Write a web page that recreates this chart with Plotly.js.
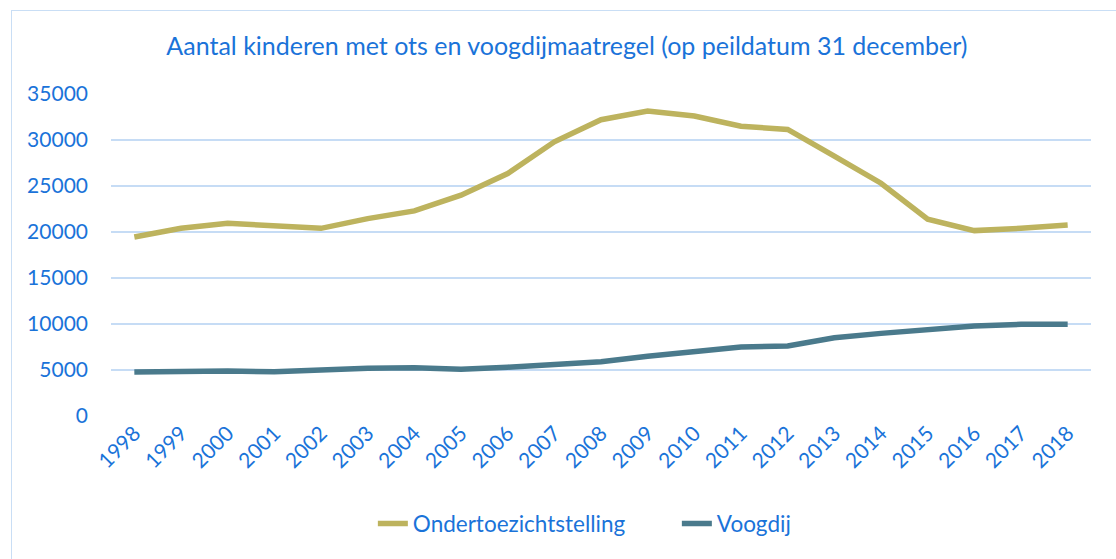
<!DOCTYPE html>
<html>
<head>
<meta charset="utf-8">
<script src="https://cdn.plot.ly/plotly-3.0.1.min.js"></script>
<style>
  html, body { margin: 0; padding: 0; background: #ffffff; overflow: hidden; }
  #chart { position: absolute; left: 0; top: 0; width: 1116px; height: 559px; }
  #frame { position: absolute; left: 11px; top: 10px; width: 1200px; height: 700px;
           border-left: 1.5px solid #c9def5; border-top: 1.5px solid #c9def5; pointer-events: none; }
</style>
</head>
<body>
<div id="chart"></div>
<div id="frame"></div>
<script>
const years = ["1998","1999","2000","2001","2002","2003","2004","2005","2006","2007","2008","2009","2010","2011","2012","2013","2014","2015","2016","2017","2018"];
const ots = [19450, 20400, 20950, 20650, 20400, 21450, 22300, 24000, 26350, 29800, 32200, 33150, 32600, 31500, 31150, 28250, 25300, 21400, 20150, 20400, 20750];
const voogdij = [4780, 4850, 4900, 4800, 5050, 5180, 5250, 5070, 5300, 5600, 5900, 6500, 7050, 7500, 7620, 8500, 8980, 9330, 9780, 9970, 9970];
const yTicks = [0, 5000, 10000, 15000, 20000, 25000, 30000, 35000];

const blue = "#1a73d9";
const fontFam = "Lato, 'Open Sans', sans-serif";

const traces = [
  { x: years, y: ots, type: "scatter", mode: "lines", name: "Ondertoezichtstelling",
    line: { color: "#bdb35e", width: 5.5, shape: "linear" } },
  { x: years, y: voogdij, type: "scatter", mode: "lines", name: "Voogdij",
    line: { color: "#4a7a8c", width: 5.5, shape: "linear" } }
];

const layout = {
  width: 1116, height: 559,
  paper_bgcolor: "rgba(0,0,0,0)", plot_bgcolor: "rgba(0,0,0,0)",
  margin: { l: 111, r: 25, t: 94, b: 143 },
  font: { family: fontFam, color: blue, size: 20 },
  title: { text: "Aantal kinderen met ots en voogdijmaatregel (op peildatum 31 december)",
           font: { family: fontFam, size: 25, color: blue }, x: 0.508, xanchor: "center", y: 0.918, yanchor: "middle" },
  xaxis: { type: "category", range: [-0.5, 20.5], tickangle: -45, showgrid: false, zeroline: false,
           showline: false, ticks: "", tickfont: { size: 21, color: blue }, automargin: false },
  yaxis: { range: [0, 35000], tickvals: yTicks, ticktext: yTicks.map(String), showgrid: true,
           gridcolor: "#c6dcf5", gridwidth: 1.5, zeroline: false, showline: false, ticks: "",
           ticklabelstandoff: 22, tickfont: { size: 21, color: blue }, automargin: false },
  showlegend: true,
  legend: { orientation: "h", x: 0.2672, xanchor: "left", y: -0.335, yanchor: "middle",
            font: { size: 22.5, color: blue }, bgcolor: "rgba(0,0,0,0)", itemwidth: 30,
            entrywidth: 259, entrywidthmode: "pixels" }
};

Plotly.newPlot("chart", traces, layout, { displayModeBar: false, staticPlot: true });
</script>
</body>
</html>
